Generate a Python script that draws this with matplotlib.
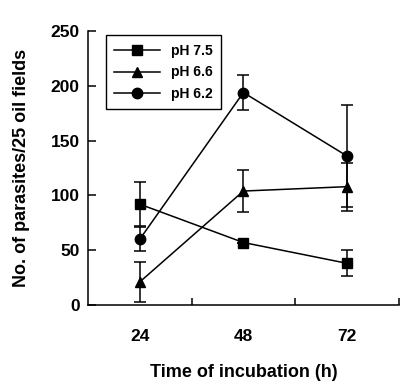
import numpy as np
import matplotlib.pyplot as plt

plt.rcParams['font.family'] = ['Liberation Sans', 'DejaVu Sans']
plt.rcParams['font.weight'] = 'bold'

times = ['24', '48', '72']
ph75 = [92, 57, 38]
ph75_err = [20, 0, 12]
ph66 = [21, 104, 108]
ph66_err = [18, 19, 22]
ph62 = [60, 194, 136]
ph62_err = [11, 16, 47]

fig = plt.figure(figsize=(4.15, 3.85), dpi=100)
ax = fig.add_axes([0.212, 0.208, 0.749, 0.711])

x = np.arange(len(times)) + 0.5
series = [(ph75, ph75_err, 's', 'pH 7.5'),
          (ph66, ph66_err, '^', 'pH 6.6'),
          (ph62, ph62_err, 'o', 'pH 6.2')]
for vals, errs, m, lab in series:
    ax.errorbar(x, vals, yerr=errs, fmt='none', ecolor='black',
                elinewidth=1.1, capsize=4, capthick=1.1)
    ax.plot(x, vals, color='black', marker=m, markersize=7.5,
            linewidth=1.1, label=lab)

ax.set_xlim(0, 3)
ax.set_ylim(0, 250)
ax.set_yticks(np.arange(0, 251, 50))
ax.set_xticks([1, 2, 3])
ax.set_xticklabels([])
ax.set_xticks(x, minor=True)
ax.set_xticklabels(times, minor=True)
ax.tick_params(axis='x', which='minor', length=0, pad=17, labelsize=12.5)
ax.tick_params(axis='x', which='major', direction='in', length=5, width=1.1)
ax.tick_params(axis='y', direction='in', length=6, width=1.1, labelsize=12.5, pad=6)
for s in ['top', 'right']:
    ax.spines[s].set_visible(False)
for s in ['left', 'bottom']:
    ax.spines[s].set_linewidth(1.1)

ax.set_xlabel('Time of incubation (h)', fontsize=13, fontweight='bold', labelpad=15)
ax.set_ylabel('No. of parasites/25 oil fields', fontsize=13, fontweight='bold', labelpad=15)

leg = ax.legend(loc='upper left', bbox_to_anchor=(0.035, 1.01), fancybox=False,
                edgecolor='black', framealpha=1, fontsize=10, handlelength=3.3,
                borderpad=0.6, labelspacing=0.55, handletextpad=0.8)
leg.get_frame().set_linewidth(1.0)

fig.savefig('out.png', dpi=100)
